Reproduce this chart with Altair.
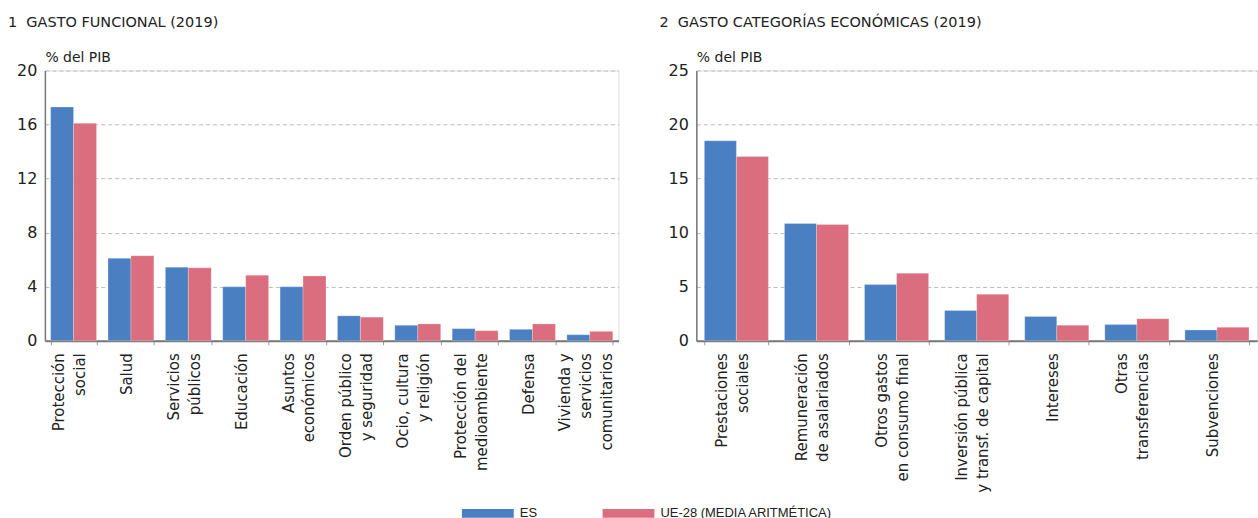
import altair as alt
import pandas as pd

FONT = "DejaVu Sans"
LEGFONT = "Liberation Sans Narrow, Liberation Sans"
BLUE = "#4a80c2"
PINK = "#db6e7e"
series = ["ES", "UE-28 (MEDIA ARITMÉTICA)"]

cats1 = ["Protección\nsocial", "Salud", "Servicios\npúblicos", "Educación",
         "Asuntos\neconómicos", "Orden público\ny seguridad", "Ocio, cultura\ny religión",
         "Protección del\nmedioambiente", "Defensa", "Vivienda y\nservicios\ncomunitarios"]
es1 = [17.3, 6.1, 5.45, 4.0, 4.0, 1.85, 1.15, 0.9, 0.85, 0.45]
ue1 = [16.1, 6.3, 5.4, 4.85, 4.8, 1.75, 1.25, 0.75, 1.25, 0.7]

cats2 = ["Prestaciones\nsociales", "Remuneración\nde asalariados", "Otros gastos\nen consumo final",
         "Inversión pública\ny transf. de capital", "Intereses", "Otras\ntransferencias", "Subvenciones"]
es2 = [18.5, 10.85, 5.2, 2.8, 2.25, 1.5, 1.0]
ue2 = [17.05, 10.75, 6.25, 4.3, 1.45, 2.05, 1.25]


def make_df(cats, es, ue):
    rows = []
    for c, a, b in zip(cats, es, ue):
        rows.append({"cat": c, "serie": series[0], "v": a})
        rows.append({"cat": c, "serie": series[1], "v": b})
    return pd.DataFrame(rows)


color = alt.Color(
    "serie:N",
    scale=alt.Scale(domain=series, range=[BLUE, PINK]),
    legend=alt.Legend(
        title=None, orient="none", direction="horizontal",
        legendX=435, legendY=435,
        symbolType="M-3,-0.5H3V0.5H-3Z", symbolSize=300,
        symbolStrokeWidth=0, labelFont=LEGFONT, labelFontSize=13, labelLimit=400,
        labelColor="#222", columnPadding=65, labelOffset=23,
    ),
)

nlines = "length(split(datum.label, '\\n'))"
label_offset = {
    "condition": [
        {"test": f"{nlines} >= 3", "value": -25},
        {"test": f"{nlines} == 2", "value": -15},
    ],
    "value": -4,
}


def panel(df, cats, title, ymax, step, width):
    return alt.Chart(df, title=alt.TitleParams(
        title, anchor="start", frame="group", dx=-37, dy=-16,
        font=FONT, fontSize=14.5, fontWeight="normal", color="#222",
    )).mark_bar(stroke="white", strokeWidth=0.4, strokeOpacity=0.6).encode(
        x=alt.X("cat:N", sort=cats, title=None,
                scale=alt.Scale(paddingInner=0.2, paddingOuter=0.1),
                axis=alt.Axis(labelAngle=-90, labelAlign="right", labelBaseline="middle",
                              labelExpr="split(datum.label, '\\n')",
                              labelOffset=label_offset,
                              labelFont=FONT, labelFontSize=15, labelColor="#222",
                              labelPadding=8, labelLineHeight=21,
                              tickBand="extent", ticks=True, tickSize=4, tickColor="#999",
                              domainColor="#777", domainWidth=2, grid=False)),
        xOffset=alt.XOffset("serie:N", sort=series, scale=alt.Scale(paddingInner=0, paddingOuter=0)),
        y=alt.Y("v:Q", title="% del PIB",
                scale=alt.Scale(domain=[0, ymax], nice=False),
                axis=alt.Axis(values=list(range(0, ymax + 1, step)), ticks=False,
                              labelFont=FONT, labelFontSize=16, labelColor="#222", labelPadding=8,
                              domainColor="#777", domainWidth=1.5,
                              gridColor="#bbb", gridDash=[4, 3], gridWidth=1,
                              titleAngle=0, titleAlign="left", titleBaseline="bottom",
                              titleX=0, titleY=-6, titleFont=FONT, titleFontSize=14,
                              titleFontWeight="normal", titleColor="#222")),
        color=color,
    ).properties(width=width, height=271)


c1 = panel(make_df(cats1, es1, ue1), cats1, "1\u00a0 GASTO FUNCIONAL (2019)", 20, 4, 575)
c2 = panel(make_df(cats2, es2, ue2), cats2, "2\u00a0 GASTO CATEGORÍAS ECONÓMICAS (2019)", 25, 5, 562)

chart = alt.hconcat(c1, c2, spacing=39).resolve_scale(xOffset="independent").properties(
    padding={"left": 7, "top": 14, "right": 0, "bottom": 2}
).configure_view(stroke=None).configure(background="white")

chart.save("out.html", embed_options={"renderer": "svg", "actions": False})
